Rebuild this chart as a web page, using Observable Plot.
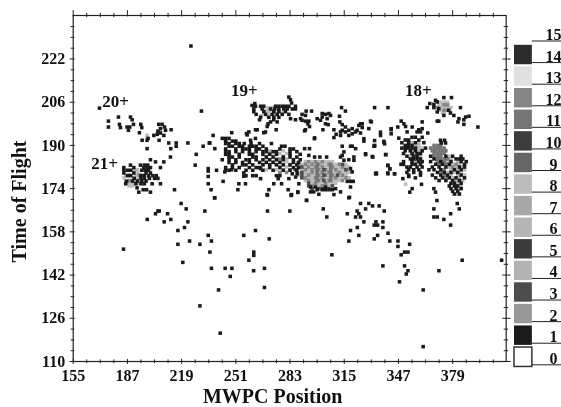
<!DOCTYPE html>
<html><head><meta charset="utf-8">
<script src="https://cdn.jsdelivr.net/npm/d3@7"></script>
<script src="https://cdn.jsdelivr.net/npm/@observablehq/plot@0.6"></script>
<style>html,body{margin:0;padding:0;background:#fff}#c{position:relative;width:561px;height:407px}#c svg{position:absolute;left:0;top:0;background:transparent;filter:blur(.35px)}</style>
</head><body><div id="c"></div>
<script>
const xTicks=[155,187,219,251,283,315,347,379];
const yTicks=[110,126,142,158,174,190,206,222];
const xMinor=[163,171,179,195,203,211,227,235,243,259,267,275,291,299,307,323,331,339,355,363,371,387,395,403];
const yMinor=[114,118,122,130,134,138,146,150,154,162,166,170,178,182,186,194,198,202,210,214,218,226,230,234];
const legendLevels=[0,1,2,3,4,5,6,7,8,9,10,11,12,13,14];
const legendLines=[...legendLevels,15];
const legendGreys=["#ffffff","#1a1a1a","#999999","#4d4d4d","#b3b3b3","#3b3b3b","#b5b5b5","#a8a8a8","#bcbcbc","#666666","#3d3d3d","#757575","#858585","#e0e0e0","#2b2b2b"];
const chargeLabels=[["20+",180,206.3],["21+",173.5,183.3],["19+",256,210.5],["18+",358.7,210.5]];

// isolated single-count bins [x,y]
const singles=[[184.7,151.6],[198.7,162.6],[203.6,164.7],[205,165.7],[205.8,165.7],[210.7,164.7],[212.6,162.6],[208.7,161.7],[218.7,168.5],[221.7,166.5],[222.7,161.7],[220.7,159.6],[216.8,158.5],[216.8,153.4],[223.7,154.6],[219.7,146.7],[229.8,153.4],[232.7,165.7],[234.7,156.7],[236.6,154.6],[235.7,150.5],[236.6,144.5],[229.8,130.6],[240.8,136.5],[241.8,120.5],[244.7,144.5],[248.7,144.5],[247.7,141.5],[255.7,156.7],[262.6,158.5],[270.7,155.4],[258.7,147.5],[261.6,150.5],[261.6,149.3],[261.5,143.6],[267.9,144.5],[267.9,137.4],[269.7,165.7],[269.7,171.6],[238.6,170.6],[282.9,165.7],[283.7,171.6],[287.6,172.6],[292.8,169.6],[302.6,166.5],[304.7,163.5],[317.7,170.6],[316.8,164.7],[324.6,168.5],[322.6,165.7],[323.6,164.7],[321.7,163.5],[324.6,163.5],[326.6,161.7],[322.7,159.6],[318.7,158.5],[323.6,156.7],[317.7,154.6],[327.6,166.5],[329.5,168.5],[331.7,167.6],[335.6,167.6],[338.6,165.7],[333.7,161.7],[334.7,160.5],[332.7,160.5],[337.8,161.7],[337.8,159.6],[340.8,157.5],[334.7,156.7],[332.7,155.4],[341.9,154.6],[346.7,154.6],[346.7,152.6],[353.6,153.4],[348.6,149.5],[350.6,150.5],[352.6,150.5],[307.7,149.5],[337.8,145.4],[350.6,145.4],[352.6,143.6],[351.6,142.4],[347.6,139.5],[361.6,136.5],[361.6,115.5],[370.9,143.6],[384.6,147.5],[407.9,147.5],[367.9,166.5],[367.9,163.5],[369.9,163.5],[369.7,169.6],[373.8,162.6],[377.8,164.7],[377.8,160.5],[381.7,168.5],[382.9,166.5],
[224.5,226.8],[230.7,202.7],[170.5,203.8],[175.8,199],[175.8,196.8],[181.7,200.5],[182.3,197.8],[182.9,196.6],[188.8,200.5],[189.8,199.5],[190.6,197.8],[188.4,196.8],[187.6,195.6],[186.8,196.8],[194.9,197.8],[195.5,196.6],[194.1,194.7],[195.7,191.9],[198.6,191.9],[199.2,192.6],[198.6,188.8],[205.5,197.8],[207.5,197.8],[206.5,196.2],[208.9,196.8],[209.5,195.6],[205,195.3],[202.6,193.7],[204.6,194.1],[206.5,194.6],[208.5,193.7],[212.8,195.8],[205.7,191.9],[211.4,190.9],[215.8,190.9],[215.8,189.7],[212.6,188.8],[222.7,190.9],[231.7,189.7],[235.3,190.9],[212.4,185.7],[208.5,183.9],[203.6,183.9],[200.6,184.7],[227.6,186.7],[227,182.7],[206.5,181.8],[186.5,176.7],[192.7,174.3],[193.7,172.7],[196.3,173.6],[198.3,173.6],[200.6,172.7],[214.8,173.6],
[237.6,193.7],[235.7,190.9],[238.6,188.8],[248.6,194.7],[258.7,195],[257.7,193.9],[267.5,194.7],[262.6,192.6],[259.7,191.9],[234.7,181.4],[234.7,180.5],[239.6,180.8],[244.5,180.2],[248.5,181],[255.7,179.8],[255.7,178.6],[265.6,181.4],[265.6,177.7],[234.7,178.5],[234.7,175.8],[243.5,176.7],[252.8,175.8],[256.7,175.8],[236.4,173.6],[238.4,170.6],[252.2,173.6],[270.5,173.6],[269.5,171.8],[273.4,175.8],[278,175.8],[281.9,173.6],[283.9,171.8],[276,177.7],[282.3,177.7],
[297.5,192.8],[291.6,195.4],[308.9,192.9],[313.8,189.7],[318.7,189.7],[319.7,189.7],[321.7,188.8],[326.6,191.6],[332.5,189.7],[327.6,186.6],[331.5,185.9],[334,179.5],[313.8,186.3],[314.8,187.6],[312.8,185.7],[291.6,188.8],[294.5,188.8],[294.1,186.3],[297.5,185.7],[300.6,185.7],[304.6,185.7],[314.8,184.5],[317.7,184.7],[320.7,185.7],[320.7,184.5],[318.7,181.4],[319.7,180.2],[316.8,176.7],[318.7,176.7],[320.3,176.7],[318.7,174.6],[312.8,172.8],[308.9,171.8],[309.9,174],[295.1,174.6],[298,174.6],[295.1,172.8],[297,172.8],[299,173.6],[300,171.9],[302,173.6],[304,173.6],[306,173.6],[304,174.6],[308,173.6],[292.7,169.7],[287.6,172.8],[283.7,171.5],[288.2,175.8],[286.3,178.3],[284.3,179.5],[287.2,179.5],
[282.3,207.9],[283.3,206.9],[283.9,205.7],[262.2,205.5],[260.6,204.8],[262.6,204.5],[265,199.5],[283.3,199.9],[286.2,199.5],[273.4,199.5],[271.5,198.7],[270,198],[269.5,197],[275.4,198.7],[274.8,195.8],[268.5,195],[262.6,195.8],[263.6,195.8],[257.3,194.4],
[290.1,201.5],[292.5,202.7],[295.7,202.7],[292.1,201.1],[289.2,199.9],[290.1,199.3],[292.1,199],[294.1,199],[293.5,198],[294.5,197],[292.1,195.8],[299,199.9],[301,199.3],[302,201.8],[302,200.5],[303.9,201.5],[304.9,199.9],[303.9,198],[305.5,197.7],[302.4,195.8],[306.9,201.1],[305.9,201.8],[313.4,204],[315.7,202.7],[312.2,200.8],[312.4,198.7],[313.8,197.7],[308.9,195.8],[310.2,194.1],[297.4,192.5],[332.9,204],[340.8,204],
[315.7,196.8],[324.6,198],[323.6,197.4],[325.6,198],[325.6,196.6],[319.7,196.2],[317.7,195.6],[313.8,195.6],[312.8,195],[315.7,195],[321.7,195],[319.7,194.3],[324.6,194.6],[322.6,195.6],[312.8,193.7],[317.7,193.7],[326.6,192.5],[331,198.7],[330.5,199],[329.5,196.2],[336.4,194.9],[336.4,193.7],[338.4,191.2],[332.9,190],[332.9,191.8],[327.6,186.9],[339.4,186.6],[333.5,179.5],[340.8,182.6],[341.9,181.3],[340.8,179.5],[344.7,179.5],[342.7,196.2],[342.7,194.3],[318.1,170.8],
[373.8,207.7],[378.3,207.7],[368.9,206.7],[365.5,205.5],[364,204],[369.9,206.1],[367.9,205.2],[367.9,204],[370.8,203.6],[369.9,202.4],[373.8,201.1],[376.7,203],[377.7,202],[383.6,204],[369.9,199],[370.8,199],[379.7,201.1],[382.7,199.9],[382.1,198.7],[385.6,199.5],[386.6,200.5],[388.6,200.8],[385.6,197.8],[393.9,196.8],
[361,198.7],[348.6,199],[350.2,198],[351.2,197],[346.6,196.8],[355.1,196.8],[342.7,195.8],[352.1,195],[359,195.8],[361,196.2],[360,195],[358,195],[364.3,194.6],[347.2,192.7],[338.4,191.5],[338.8,190.6],[332.9,189.7],[339.6,186.6],[331.9,185.7],[340.7,182.6],[341.9,181.4],[333.8,179.8],[340.7,179.8],[344.7,179.5],
[349.6,177.7],[353.1,178.5],[357,178],[360.6,175.6],[355.1,174],[353.7,172.7],[367.9,174],[368.9,172.7],[371.8,191.9],[374.2,191.9],[372.2,190.9],[374.8,190.9]];

// crowded single-count bins, one row per time of flight [y,[x...]]
const bandRows=[[192.6,[243,245,247]],[191.6,[245,249,251]],[190.7,[245,247,251,253,256,260,265,272]],[189.7,[247,249,253,255,259,261,263,267,278,280]],[188.7,[245,251,255,257,259,263,265,269,277,283,285]],[187.7,[245,247,251,255,259,263,267,269,273,275,283,287]],[186.7,[245,247,253,259,261,267,271,275,283,289]],[185.7,[247,249,253,261,263,269,273,279,283,287]],[184.7,[243,247,251,257,259,263,267,271,275,279,285,289]],[183.7,[247,251,255,259,265,269,273,277,285,288]],[182.8,[249,255,257,261,267,271,275,279,283,287]],[181.8,[245,249,253,259,263,265,271,277,285,288]],[180.8,[245,247,251,257,261,267,273,279,283,287]],[178.8,[257,261,263,275,277]]];
const cluster21Rows=[[182.7,[188.8,194.7,197,199]],[181.8,[184.9,190.8,196.7,198.7,200.6]],[180.8,[184.9,187,189,195.5,197.5,199.5]],[179.8,[184.9,190.8,198,200.6]],[178.8,[187,189,195,197,199.5,202,204]],[177.8,[191,195,197,200,203,205]],[176.8,[190,193,195.5,198]],[175.8,[186,192,195,197,201.6,206.5]]];
const top19Rows=[[204.5,[265.6,267.5,274.4,276.4,278.4,280.3,282.3,286.2]],[203.5,[261.6,266.5,271.5,274,276.4,279.3,281.3,284.3,286.2]],[202.5,[261.6,267.5,273.4,276.4,280.3]],[201.5,[263,268.5,272.4,275.4,278.4,282.3]],[200.4,[265.6,270.5,273.4,276.4]]];
const left18Rows=[[193,[355,357,361]],[192,[351,353,359]],[191,[349,353,357,362]],[190,[351,353,355]],[189,[349,351,353,355,357,363]],[188,[351,354,357,361]],[187,[350,355,358,360]],[186,[352,356,358]],[185,[354,356,358,360]],[184,[350,355,359,361]],[183,[348.5,350,355,357,360]],[182,[352,354,358,361]],[181,[353,356,359]],[180,[352,356,360]],[179,[353,360]]];
const right18Rows=[[186,[366,375,379,384]],[185,[368,381,383,385]],[184,[366,372,378,384,387]],[183,[369,373,377,386]],[182,[367,371,375,383,386]],[181,[365,368,372,380,384]],[180,[370,374,378,382]],[179,[367,372,376,384]],[178,[369,373,377,381,386]],[177,[371,375,379,383]],[176,[378,380,384]],[175,[377,380,382]],[174,[378,381,384]],[173,[379,382]],[172,[380,383]]];

// higher-count bins, one list per level [y,[x...]]
const level8Rows=[[184,[292,296,300,304,306,308]],[183,[290,294,298,302,304,308,310,316]],[182,[288,292,296,300,304,306,310,312,316,318]],[181,[290,294,298,302,306,308,312,314,318]],[180,[288,292,294,298,300,304,308,310,314,316,318]],[179,[288,292,296,298,302,306,310,312,316]],[178,[294,296,300,304,306,308,312,314,318]],[177,[292,296,298,302,304,308,310,312]],[176,[296,300,302,306,308,310]],[175,[298,300,304,306]],
[188,[271,279]],[187,[277,281]],[186,[269,273,279]],[185,[269,275,281]],[184,[273,281]],[183,[271,275,279,283]],[182,[277,281]],[181,[269,275,279]],
[203,[268,270,272]],[204,[270,272,282]],[202,[270,274,278]],[201,[266,270,274]],
[181,[191,193]],[180,[191,193]],[179,[186,192,196]],[178,[185,191,193]],[177,[186,190,192,198]],[176,[188,190,194]],[175,[188,190]],[193.7,[198.6]],
[206,[372,374,376]],[205,[371,373,375]],[204,[372,374,376,378]],[203,[371,373,375]],[202,[373,374]],
[191,[355,359]],[190,[357,359]],[189,[359,361]],[188,[356,359]],[187,[356]],[186,[354,360]],[184,[357]],
[186,[377]],[185,[378]],[184,[376,382]],[183,[379,383]],[182,[377,381,385]],[181,[378,382,386]],[180,[376,380,384]],[179,[378,382,386]],[178,[379,383]],[177,[381,385]],[176,[382]],[175,[384]],[174,[383]],[172,[381.7]],[175.6,[351.2]]];
const level12Rows=[[184,[294,298,302]],[183,[292,296,300,306,312]],[182,[294,298,302,308,314]],[181,[292,296,300,304,310,316]],[180,[296,302,306,312]],[179,[294,300,304,308,314]],[178,[292,298,302,310,316]],[177,[294,300,306,314]],[176,[298,304]],[175,[296,302]],
[187,[271]],[185,[277]],[183,[267]],[181,[283]],[180,[277,281]],
[179,[188,194]],[177,[188]],[176,[192]],
[205,[374,376]],[204,[370]],[203,[374,376]],
[183,[381]],[182,[379]],[181,[374]],[180,[372]],[179,[374]],[178,[375]]];
const level11Rows=[[190,[368,370,372]],[189,[366,368,370,372,374]],[188,[367,369,371,373,375]],[187,[368,370,372,374]],[186,[368,370,372]],[185,[370,372,374,376]],[184,[370,374]],[183,[371,375]],
[183,[299,307]],[182,[299,307]],[181,[299,307]],[180,[299,307]],[179,[299,307]],[178,[299,307]],[177,[299,307]]];
const level3Rows=[[182,[290]],[180,[290]],[179,[290]],[178,[290]],[176,[294]],[175,[294,308]],[174,[296,300,302,306]],[183,[314]],[181,[286,316]],[183.5,[288]],[181,[303]],[179,[303,311]],[177,[303]]];

const expand=(rows,level)=>rows.flatMap(([y,xs])=>xs.map(x=>({x,y,level})));
const bins=[
  ...expand(level8Rows,8),...expand(level12Rows,12),...expand(level11Rows,11),...expand(level3Rows,3),
  ...singles.map(([x,y])=>({x,y,level:1})),
  ...expand(bandRows,1),...expand(cluster21Rows,1),...expand(top19Rows,1),...expand(left18Rows,1),...expand(right18Rows,1)
];
const serif='"Liberation Serif", serif';
const ink="#222";
const colorScale={type:"ordinal",domain:legendLevels,range:legendGreys};

const main=Plot.plot({
  width:561,height:407,marginLeft:72.7,marginRight:55.3,marginTop:15,marginBottom:46,
  style:{fontFamily:serif,background:"transparent"},
  x:{domain:[155,410.6],axis:null},
  y:{domain:[110,238.1],axis:null},
  color:colorScale,
  marks:[
    Plot.dot(bins,{x:"x",y:"y",fill:"level",symbol:"square",r:2}),
    Plot.frame({stroke:ink,strokeWidth:1.2}),
    Plot.ruleX(xTicks,{y1:108.9,y2:110.8,stroke:ink,strokeWidth:1}),
    Plot.ruleX(xMinor,{y1:109.2,y2:110.6,stroke:ink,strokeWidth:1}),
    Plot.ruleX(xTicks,{y1:237.6,y2:239.9,stroke:ink,strokeWidth:1}),
    Plot.ruleX(xMinor,{y1:237.3,y2:238.9,stroke:ink,strokeWidth:1}),
    Plot.ruleY(yTicks,{x1:153.2,x2:156.2,stroke:ink,strokeWidth:1}),
    Plot.ruleY(yMinor,{x1:153.8,x2:155.9,stroke:ink,strokeWidth:1}),
    Plot.ruleY(yTicks,{x1:408.6,x2:413.5,stroke:ink,strokeWidth:1}),
    Plot.ruleY(yMinor,{x1:409.4,x2:412,stroke:ink,strokeWidth:1}),
    Plot.axisX(xTicks,{tickSize:0,tickPadding:8,label:null,fontSize:16,fontWeight:"bold",fill:"#111",tickFormat:d=>String(d)}),
    Plot.axisY(yTicks,{tickSize:0,tickPadding:8,label:null,fontSize:16,fontWeight:"bold",fill:"#111",tickFormat:d=>String(d)}),
    Plot.text(chargeLabels,{x:d=>d[1],y:d=>d[2],text:d=>d[0],fontSize:17,fontWeight:"bold",fill:"#111"}),
    Plot.text(["MWPC Position"],{frameAnchor:"bottom",dx:-17,dy:41,fontSize:20,fontWeight:"bold",fill:"#111"}),
    Plot.text(["Time of Flight"],{frameAnchor:"left",textAnchor:"middle",dx:-54,dy:13,rotate:-90,fontSize:20,fontWeight:"bold",fill:"#111"})
  ]
});

const legend=Plot.plot({
  width:561,height:407,marginLeft:514,marginRight:0,marginTop:40.5,marginBottom:42.7,
  style:{fontFamily:serif,background:"transparent"},
  x:{domain:[0,1],axis:null},
  y:{domain:[0,15],axis:null},
  color:colorScale,
  marks:[
    Plot.rect(legendLevels,{x1:0,x2:0.38,y1:d=>d-0.1,y2:d=>d+0.8,fill:d=>d}),
    Plot.rect([0],{x1:0,x2:0.38,y1:d=>d-0.1,y2:d=>d+0.8,fill:"none",stroke:"#333",strokeWidth:1.5}),
    Plot.ruleY(legendLines,{x1:0.38,x2:1,stroke:ink,strokeWidth:1}),
    Plot.text(legendLines,{x:0.83,y:d=>d,text:d=>String(d),dy:-1,lineAnchor:"bottom",fontSize:16,fontWeight:"bold",fill:"#111"})
  ]
});
document.getElementById("c").append(main,legend);
</script></body></html>
